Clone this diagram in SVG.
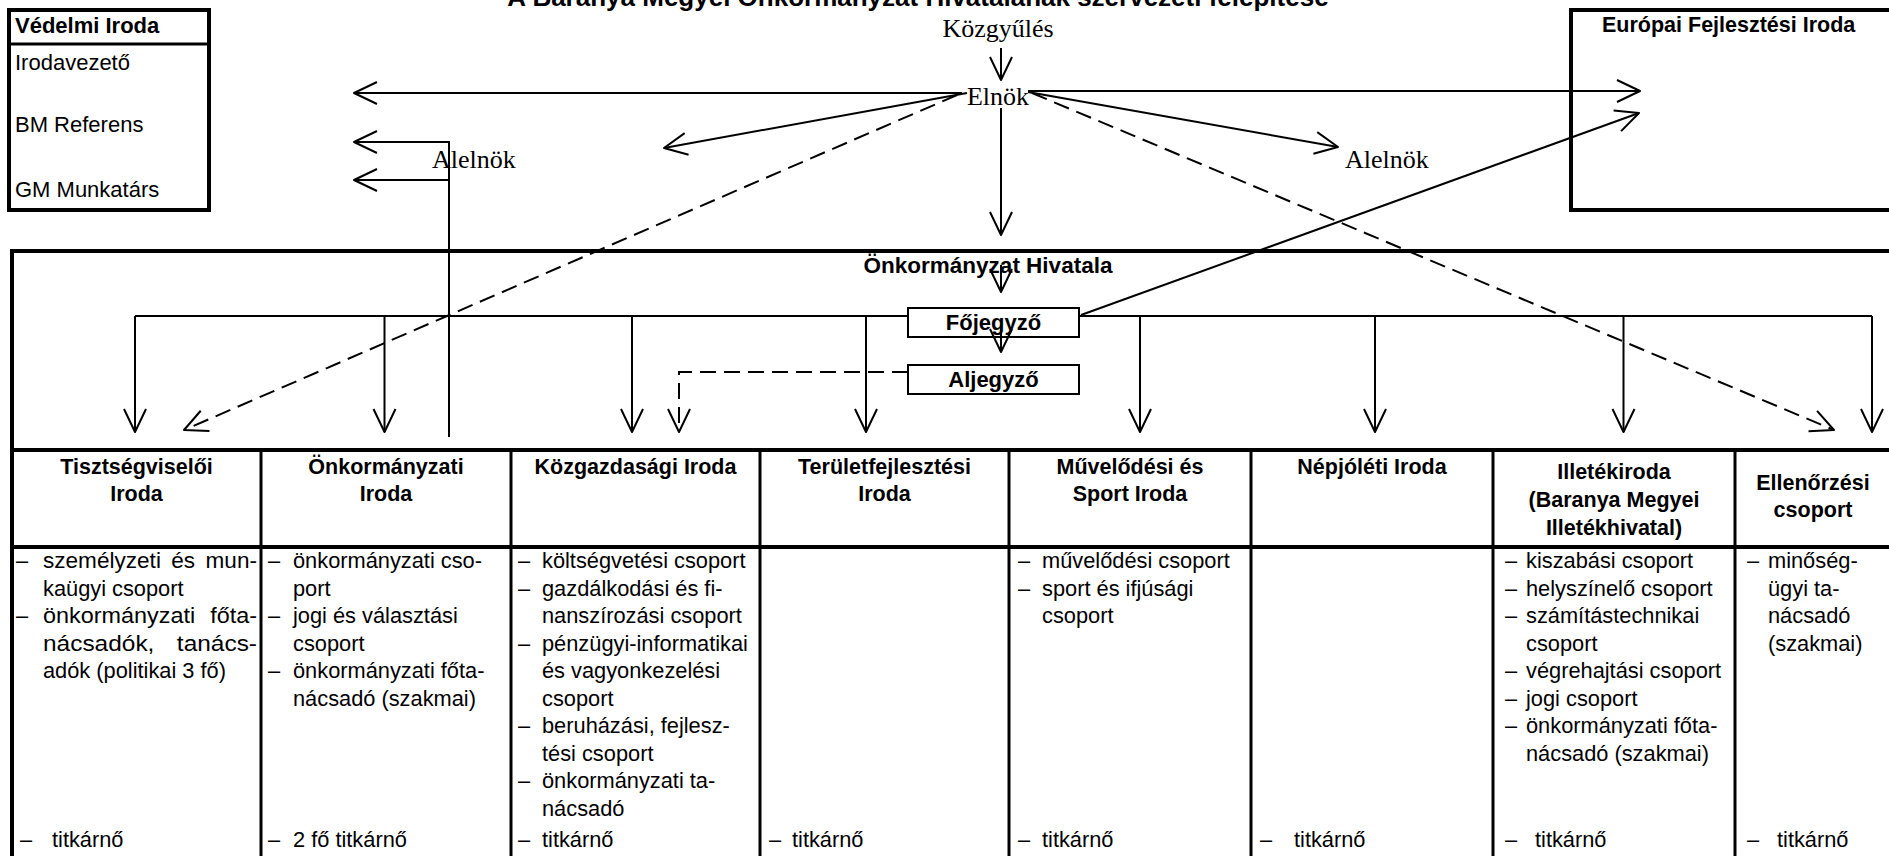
<svg xmlns="http://www.w3.org/2000/svg" width="1889" height="856" viewBox="0 0 1889 856">
<defs>
<style>
.sans{font-family:"Liberation Sans",Arial,sans-serif;fill:#000}
.serif{font-family:"Liberation Serif","Times New Roman",serif;font-size:26px;fill:#000}
.b{font-weight:bold}
.hd{font-family:"Liberation Sans",Arial,sans-serif;font-weight:bold;font-size:21.5px;text-anchor:middle;fill:#000}
.bd{font-family:"Liberation Sans",Arial,sans-serif;font-size:21.8px;fill:#000}
.thick{fill:none;stroke:#000;stroke-width:4}
.box{fill:#fff;stroke:#000;stroke-width:2}
.div{stroke:#000;stroke-width:3}
.ln{fill:none;stroke:#000;stroke-width:2}
.arr{marker-end:url(#ah)}
.dash{stroke-dasharray:16 8}
</style>
<marker id="ah" viewBox="-26 -14 28 28" markerWidth="28" markerHeight="28" refX="0" refY="0" orient="auto" markerUnits="userSpaceOnUse">
<path d="M-23,-11 L0,0 L-23,11" fill="none" stroke="#000" stroke-width="2" stroke-linejoin="round"/>
</marker>
</defs>
<rect x="0" y="0" width="1889" height="856" fill="#fff"/>

<text id="title" class="sans b" x="918" y="6" font-size="26" text-anchor="middle">A Baranya Megyei Önkormányzat Hivatalának szervezeti felépítése</text>

<g id="vedelmi-iroda">
<rect x="9" y="10" width="200" height="200" class="thick" stroke-width="3.5"/>
<line x1="9" y1="44" x2="209" y2="44" class="div"/>
<text class="sans b" x="15" y="33" font-size="22">Védelmi Iroda</text>
<text class="sans" x="15" y="70" font-size="22">Irodavezető</text>
<text class="sans" x="15" y="132" font-size="22">BM Referens</text>
<text class="sans" x="15" y="197" font-size="22">GM Munkatárs</text>
</g>

<g id="europai-fejlesztesi-iroda">
<rect x="1571" y="10" width="330" height="200" class="thick"/>
<text class="sans b" x="1602" y="32" font-size="21.5">Európai Fejlesztési Iroda</text>
</g>

<g id="kozgyules"><text class="serif" x="998" y="37" text-anchor="middle">Közgyűlés</text></g>
<g id="elnok"><text class="serif" x="998" y="105" text-anchor="middle">Elnök</text></g>
<g id="alelnok-bal"><text class="serif" x="432" y="168">Alelnök</text></g>
<g id="alelnok-jobb"><text class="serif" x="1345" y="168">Alelnök</text></g>

<g id="onkormanyzat-hivatala">
<rect x="12" y="251" width="1885" height="199" class="thick"/>
<text class="sans b" x="988" y="273" font-size="22.5" text-anchor="middle">Önkormányzat Hivatala</text>
</g>

<g id="connectors-branch">
<path class="ln" d="M135,316 H908 M1079,316 H1872"/>
</g>

<g id="fojegyzo">
<rect x="908" y="308" width="171" height="29" class="box"/>
<text class="sans b" x="993.5" y="330" font-size="22" text-anchor="middle">Főjegyző</text>
</g>
<g id="aljegyzo">
<rect x="908" y="365" width="171" height="29" class="box"/>
<text class="sans b" x="993.5" y="387" font-size="22" text-anchor="middle">Aljegyző</text>
</g>

<g id="table-grid">
<line x1="12" y1="547" x2="1889" y2="547" class="thick"/>
<line x1="12" y1="448" x2="12" y2="856" class="thick"/>
<line x1="261" y1="450" x2="261" y2="856" class="div"/>
<line x1="511" y1="450" x2="511" y2="856" class="div"/>
<line x1="760" y1="450" x2="760" y2="856" class="div"/>
<line x1="1009" y1="450" x2="1009" y2="856" class="div"/>
<line x1="1251" y1="450" x2="1251" y2="856" class="div"/>
<line x1="1493" y1="450" x2="1493" y2="856" class="div"/>
<line x1="1735" y1="450" x2="1735" y2="856" class="div"/>
</g>

<g id="tisztsegviseloi-iroda">
<text class="hd" x="136.5" y="474">Tisztségviselői</text>
<text class="hd" x="136.5" y="501">Iroda</text>
<text class="bd" x="16" y="568">–</text><text class="bd" x="43" y="568" word-spacing="4" textLength="214" lengthAdjust="spacingAndGlyphs">személyzeti és mun-</text>
<text class="bd" x="43" y="595.5">kaügyi csoport</text>
<text class="bd" x="16" y="623">–</text><text class="bd" x="43" y="623" word-spacing="8" textLength="214" lengthAdjust="spacingAndGlyphs">önkormányzati főta-</text>
<text class="bd" x="43" y="650.5" word-spacing="14" textLength="214" lengthAdjust="spacingAndGlyphs">nácsadók, tanács-</text>
<text class="bd" x="43" y="678">adók (politikai 3 fő)</text>
<text class="bd" x="20" y="847">–</text><text class="bd" x="52" y="847">titkárnő</text>
</g>

<g id="onkormanyzati-iroda">
<text class="hd" x="386" y="474">Önkormányzati</text>
<text class="hd" x="386" y="501">Iroda</text>
<text class="bd" x="268" y="568">–</text><text class="bd" x="293" y="568">önkormányzati cso-</text>
<text class="bd" x="293" y="595.5">port</text>
<text class="bd" x="268" y="623">–</text><text class="bd" x="293" y="623">jogi és választási</text>
<text class="bd" x="293" y="650.5">csoport</text>
<text class="bd" x="268" y="678">–</text><text class="bd" x="293" y="678">önkormányzati főta-</text>
<text class="bd" x="293" y="705.5">nácsadó (szakmai)</text>
<text class="bd" x="268" y="847">–</text><text class="bd" x="293" y="847">2 fő titkárnő</text>
</g>

<g id="kozgazdasagi-iroda">
<text class="hd" x="635.5" y="474">Közgazdasági Iroda</text>
<text class="bd" x="518" y="568">–</text><text class="bd" x="542" y="568">költségvetési csoport</text>
<text class="bd" x="518" y="595.5">–</text><text class="bd" x="542" y="595.5">gazdálkodási és fi-</text>
<text class="bd" x="542" y="623">nanszírozási csoport</text>
<text class="bd" x="518" y="650.5">–</text><text class="bd" x="542" y="650.5">pénzügyi-informatikai</text>
<text class="bd" x="542" y="678">és vagyonkezelési</text>
<text class="bd" x="542" y="705.5">csoport</text>
<text class="bd" x="518" y="733">–</text><text class="bd" x="542" y="733">beruházási, fejlesz-</text>
<text class="bd" x="542" y="760.5">tési csoport</text>
<text class="bd" x="518" y="788">–</text><text class="bd" x="542" y="788">önkormányzati ta-</text>
<text class="bd" x="542" y="815.5">nácsadó</text>
<text class="bd" x="518" y="847">–</text><text class="bd" x="542" y="847">titkárnő</text>
</g>

<g id="teruletfejlesztesi-iroda">
<text class="hd" x="884.5" y="474">Területfejlesztési</text>
<text class="hd" x="884.5" y="501">Iroda</text>
<text class="bd" x="769" y="847">–</text><text class="bd" x="792" y="847">titkárnő</text>
</g>

<g id="muvelodesi-es-sport-iroda">
<text class="hd" x="1130" y="474">Művelődési és</text>
<text class="hd" x="1130" y="501">Sport Iroda</text>
<text class="bd" x="1018" y="568">–</text><text class="bd" x="1042" y="568">művelődési csoport</text>
<text class="bd" x="1018" y="595.5">–</text><text class="bd" x="1042" y="595.5">sport és ifjúsági</text>
<text class="bd" x="1042" y="623">csoport</text>
<text class="bd" x="1018" y="847">–</text><text class="bd" x="1042" y="847">titkárnő</text>
</g>

<g id="nepjoleti-iroda">
<text class="hd" x="1372" y="474">Népjóléti Iroda</text>
<text class="bd" x="1260" y="847">–</text><text class="bd" x="1294" y="847">titkárnő</text>
</g>

<g id="illetekiroda">
<text class="hd" x="1614" y="479">Illetékiroda</text>
<text class="hd" x="1614" y="507">(Baranya Megyei</text>
<text class="hd" x="1614" y="535">Illetékhivatal)</text>
<text class="bd" x="1505" y="568">–</text><text class="bd" x="1526" y="568">kiszabási csoport</text>
<text class="bd" x="1505" y="595.5">–</text><text class="bd" x="1526" y="595.5">helyszínelő csoport</text>
<text class="bd" x="1505" y="623">–</text><text class="bd" x="1526" y="623">számítástechnikai</text>
<text class="bd" x="1526" y="650.5">csoport</text>
<text class="bd" x="1505" y="678">–</text><text class="bd" x="1526" y="678">végrehajtási csoport</text>
<text class="bd" x="1505" y="705.5">–</text><text class="bd" x="1526" y="705.5">jogi csoport</text>
<text class="bd" x="1505" y="733">–</text><text class="bd" x="1526" y="733">önkormányzati főta-</text>
<text class="bd" x="1526" y="760.5">nácsadó (szakmai)</text>
<text class="bd" x="1505" y="847">–</text><text class="bd" x="1535" y="847">titkárnő</text>
</g>

<g id="ellenorzesi-csoport">
<text class="hd" x="1813" y="490">Ellenőrzési</text>
<text class="hd" x="1813" y="517">csoport</text>
<text class="bd" x="1747" y="568">–</text><text class="bd" x="1768" y="568">minőség-</text>
<text class="bd" x="1768" y="595.5">ügyi ta-</text>
<text class="bd" x="1768" y="623">nácsadó</text>
<text class="bd" x="1768" y="650.5">(szakmai)</text>
<text class="bd" x="1747" y="847">–</text><text class="bd" x="1777" y="847">titkárnő</text>
</g>

<g id="connectors">
<line class="ln arr" x1="1001" y1="48" x2="1001" y2="80"/>
<line class="ln arr" x1="962" y1="93" x2="354" y2="93"/>
<path class="ln arr" d="M449,437 V142 H354"/>
<line class="ln arr" x1="449" y1="180" x2="354" y2="180"/>
<line class="ln arr" x1="967" y1="93" x2="664" y2="148"/>
<line class="ln arr" x1="1028" y1="92" x2="1338" y2="147"/>
<line class="ln arr" x1="1028" y1="91" x2="1640" y2="91"/>
<line class="ln arr" x1="1001" y1="108" x2="1001" y2="235"/>
<line class="ln dash arr" x1="957" y1="95" x2="184" y2="430"/>
<line class="ln dash arr" x1="1032" y1="93" x2="1834" y2="430"/>
<line class="ln arr" x1="1001" y1="265" x2="1001" y2="292"/>
<line class="ln arr" x1="1001" y1="325" x2="1001" y2="352"/>
<line class="ln arr" x1="135" y1="316" x2="135" y2="432"/>
<line class="ln arr" x1="384.5" y1="316" x2="384.5" y2="432"/>
<line class="ln arr" x1="632" y1="316" x2="632" y2="432"/>
<line class="ln arr" x1="866" y1="316" x2="866" y2="432"/>
<line class="ln arr" x1="1140" y1="316" x2="1140" y2="432"/>
<line class="ln arr" x1="1375" y1="316" x2="1375" y2="432"/>
<line class="ln arr" x1="1623.5" y1="316" x2="1623.5" y2="432"/>
<line class="ln arr" x1="1872" y1="316" x2="1872" y2="432"/>
<path class="ln dash arr" d="M908,372 H679 V432"/>
<line class="ln arr" x1="1081" y1="315" x2="1639" y2="113"/>
</g>
</svg>
